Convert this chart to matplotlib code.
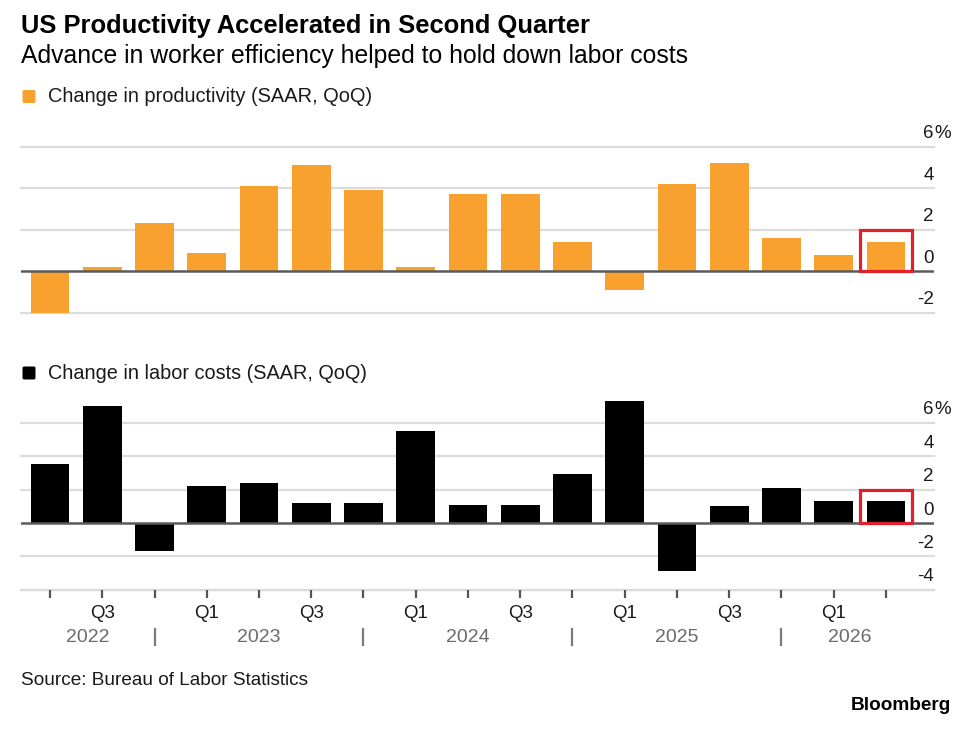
import matplotlib
matplotlib.use("Agg")
import matplotlib.pyplot as plt
import matplotlib.transforms as mtransforms
from matplotlib.patches import Rectangle, FancyBboxPatch
import numpy as np

# ---------------- data ----------------
quarters = ["Q2", "Q3", "Q4", "Q1", "Q2", "Q3", "Q4", "Q1", "Q2", "Q3", "Q4",
            "Q1", "Q2", "Q3", "Q4", "Q1", "Q2"]
years = ["2022", "2023", "2024", "2025", "2026"]
productivity = [-2.0, 0.2, 2.3, 0.9, 4.1, 5.1, 3.9, 0.2, 3.7, 3.7, 1.4,
                -0.9, 4.2, 5.2, 1.6, 0.8, 1.4]
labor_costs = [3.5, 7.0, -1.7, 2.2, 2.4, 1.2, 1.2, 5.5, 1.1, 1.1, 2.9,
               7.3, -2.9, 1.0, 2.1, 1.3, 1.3]
top_ticks = [-2, 0, 2, 4, 6]
bottom_ticks = [-4, -2, 0, 2, 4, 6]

title = "US Productivity Accelerated in Second Quarter"
subtitle = "Advance in worker efficiency helped to hold down labor costs"
legend1 = "Change in productivity (SAAR, QoQ)"
legend2 = "Change in labor costs (SAAR, QoQ)"
source = "Source: Bureau of Labor Statistics"
brand = "Bloomberg"

# ---------------- style ----------------
W, H = 975, 731
DPI = 100
ORANGE = "#F8A12E"
BLACK = "#000000"
GRID = "#DCDCDC"
ZERO = "#5A5A5A"
RED = "#E0202A"
FONT = ["Liberation Sans", "DejaVu Sans"]
plt.rcParams["font.family"] = FONT
TICK_FS = 13.5

fig = plt.figure(figsize=(W / DPI, H / DPI), dpi=DPI)
fig.patch.set_facecolor("white")

n = len(quarters)
x = np.arange(n)
X0_PX, STEP_PX = 50.0, 52.25
L_PX, R_PX = 21.0, 934.0
xmin = (L_PX - X0_PX) / STEP_PX
xmax = (R_PX - X0_PX) / STEP_PX
year_right = (918 - X0_PX) / STEP_PX


def fy(py):
    return 1 - py / H


def fx(px):
    return px / W


left = fx(L_PX)
width = (R_PX - L_PX) / W

# top axes: y=6 at 146.7px, -2 at 312.7px
ppu_top = (312.7 - 146.7) / 8.0
t_lo, t_hi = -2.3, 6.2
ax1 = fig.add_axes([left, fy(312.7 + (-2 - t_lo) * ppu_top), width,
                    (t_hi - t_lo) * ppu_top / H])
# bottom axes: y=6 at 422.7px, -4 at 589.7px
ppu_bot = (589.7 - 422.7) / 10.0
b_lo, b_hi = -4.0, 7.6
ax2 = fig.add_axes([left, fy(589.7), width, (b_hi - b_lo) * ppu_bot / H])

ax1.set_ylim(t_lo, t_hi)
ax2.set_ylim(b_lo, b_hi)

for ax, vals, color, ticks in ((ax1, productivity, ORANGE, top_ticks),
                               (ax2, labor_costs, BLACK, bottom_ticks)):
    ax.set_xlim(xmin, xmax)
    for s in ax.spines.values():
        s.set_visible(False)
    ax.set_yticks([])
    for t in ticks:
        if t == 0:
            continue
        ax.axhline(t, color=GRID, lw=1.6, zorder=0, clip_on=False)
    ax.bar(x, vals, width=0.74, color=color, zorder=2, linewidth=0)
    ax.axhline(0, color=ZERO, lw=1.8, zorder=3)
    # y labels (right end, above gridlines)
    trans = mtransforms.blended_transform_factory(ax.transAxes, ax.transData)
    trans = mtransforms.offset_copy(trans, fig=fig, x=0, y=6.0, units="points")
    for t in ticks:
        ax.text(1.0, t, f"{t}", transform=trans, ha="right", va="baseline",
                fontsize=TICK_FS, color="#1a1a1a")
        if t == ticks[-1]:
            ax.text(1.0, t, "%", transform=trans, ha="left", va="baseline",
                    fontsize=TICK_FS, color="#1a1a1a")
    # highlight box around latest bar
    ax.add_patch(Rectangle((n - 1 - 0.5, 0), 1.0, 2.0, fill=False,
                           edgecolor=RED, lw=2.3, zorder=5, clip_on=False))

ax1.set_xticks([])

# bottom axis line and ticks
ax2.axhline(-4, color=GRID, lw=1.6, zorder=1, clip_on=False)
ax2.set_xticks(x)
ax2.set_xticklabels([q if q in ("Q1", "Q3") else "" for q in quarters],
                    fontsize=TICK_FS, color="#1a1a1a")
ax2.tick_params(axis="x", length=6, width=1.6, color="#555555", pad=5.0)

# year separators and labels
tb = mtransforms.blended_transform_factory(ax2.transData, ax2.transAxes)
ax_h_px = (b_hi - b_lo) * ppu_bot
y_sep0 = -(629 - 589.7) / ax_h_px
y_sep1 = -(645 - 589.7) / ax_h_px
y_year = -(642 - 589.7) / ax_h_px
seps = [i for i, q in enumerate(quarters) if q == "Q4"]
for s in seps:
    ax2.plot([s, s], [y_sep0, y_sep1], color="#7a7a7a", lw=1.6,
             transform=tb, clip_on=False)
bounds = [xmin] + seps + [year_right]
for yr, a, b in zip(years, bounds[:-1], bounds[1:]):
    ax2.text((a + b) / 2, y_year, yr, transform=tb, ha="center",
             va="baseline", fontsize=14, color="#6b6b6b")

# ---------------- header / footer texts ----------------
renderer = fig.canvas.get_renderer()


def fit(txt, target_px):
    for _ in range(3):
        bb = txt.get_window_extent(renderer=renderer)
        txt.set_fontsize(txt.get_fontsize() * target_px / bb.width)


t_title = fig.text(fx(21), fy(32.5), title, fontsize=16, fontweight="bold",
                   ha="left", va="baseline", color="#000000")
fit(t_title, 590 - 21)
t_sub = fig.text(fx(21), fy(62.5), subtitle, fontsize=15, ha="left",
                 va="baseline", color="#000000")
fit(t_sub, 689 - 21)
t_l1 = fig.text(fx(48), fy(101.5), legend1, fontsize=13, ha="left",
                va="baseline", color="#1a1a1a")
fit(t_l1, 372 - 48)
t_l2 = fig.text(fx(48), fy(379), legend2, fontsize=13, ha="left",
                va="baseline", color="#1a1a1a")
fit(t_l2, 367 - 48)
for cy, col in ((96.5, ORANGE), (373, BLACK)):
    fig.patches.append(FancyBboxPatch((fx(22.5), fy(cy + 6.5)), 13 / W, 13 / H,
                                      boxstyle="round,pad=0,rounding_size=0.002",
                                      transform=fig.transFigure, facecolor=col,
                                      edgecolor="none"))
t_src = fig.text(fx(21), fy(685), source, fontsize=12, ha="left",
                 va="baseline", color="#1a1a1a")
fit(t_src, 308 - 21)
t_brand = fig.text(fx(951), fy(710), brand, fontsize=12, fontweight="bold",
                   ha="right", va="baseline", color="#000000")
fit(t_brand, 951 - 851)

fig.savefig("out.png", dpi=DPI, facecolor="white")
